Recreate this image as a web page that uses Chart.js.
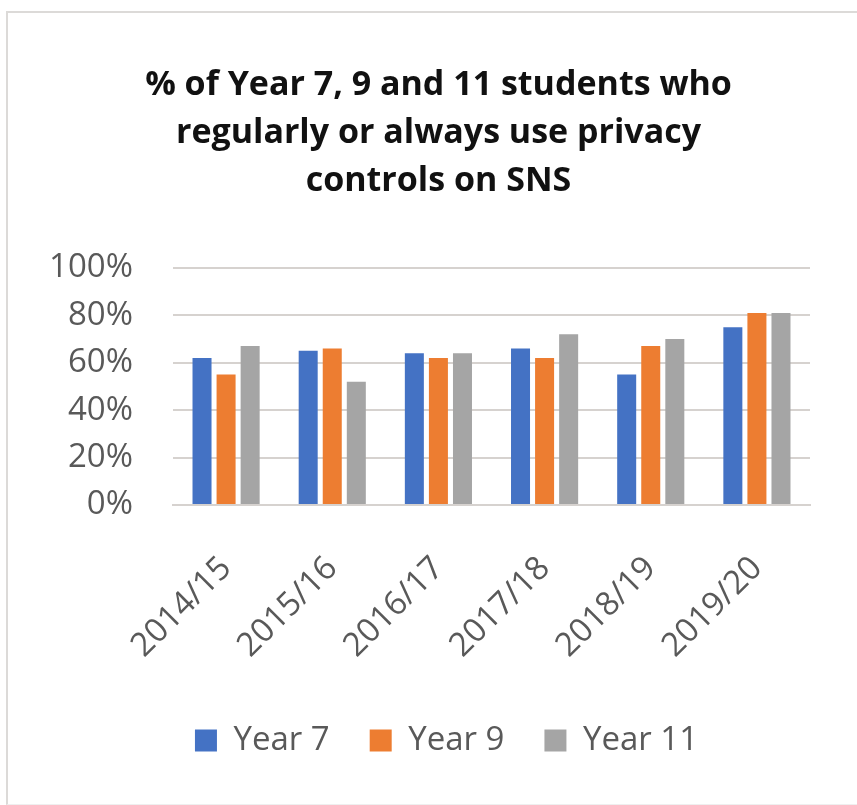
<!DOCTYPE html>
<html>
<head>
<meta charset="utf-8">
<script src="https://cdn.jsdelivr.net/npm/chart.js@4"></script>
<style>
 html, body { margin:0; padding:0; background:#fff; }
 #frame {
   position:absolute; left:6px; top:11px; width:851px; height:791px;
   border-top:2px solid #dcdad8; border-left:2px solid #dcdad8; border-bottom:1px solid #efefef;
 }
 #wrap { position:absolute; left:0; top:0; width:857px; height:805px; }
</style>
</head>
<body>
<div id="frame"></div>
<div id="wrap"><canvas id="chart" width="857" height="805"></canvas></div>
<script>
const categories = ['2014/15','2015/16','2016/17','2017/18','2018/19','2019/20'];
const year7  = [62, 65, 64, 66, 55, 75];
const year9  = [55, 66, 62, 62, 67, 81];
const year11 = [67, 52, 64, 72, 70, 81];
const seriesNames = ['Year 7','Year 9','Year 11'];
const titleLines = ['% of Year 7, 9 and 11 students who','regularly or always use privacy','controls on SNS'];

const font = "'Open Sans', Lato, sans-serif";
const grey = '#595959';
const gridColor = '#d6d2cf';

// title and legend sit centred on the whole frame, not on the axes block
const shiftBlocks = {
  id:'shiftBlocks',
  afterLayout(c){
    c.titleBlock.left += 16; c.titleBlock.right += 16;
    c.legend.left += 24; c.legend.right += 24;
  }
};

let chart = new Chart(document.getElementById('chart'),{
  type:'bar',
  data:{
    labels:categories,
    datasets:[
      { label:seriesNames[0], data:year7,  backgroundColor:'#4472C4' },
      { label:seriesNames[1], data:year9,  backgroundColor:'#ED7D31' },
      { label:seriesNames[2], data:year11, backgroundColor:'#A5A5A5' }
    ]
  },
  options:{
    responsive:false,
    animation:false,
    datasets:{ bar:{ categoryPercentage:0.68, barPercentage:0.79 } },
    layout:{ padding:{ left:35, right:47, top:0, bottom:38 } },
    plugins:{
      title:{
        display:true,
        text:titleLines,
        color:'#111',
        font:{ family:font, size:34, weight:'bold', lineHeight:1.42 },
        padding:{ top:61, bottom:62 }
      },
      legend:{
        position:'bottom',
        labels:{
          color:grey,
          font:{ family:font, size:33 },
          boxWidth:22, boxHeight:22,
          padding:40
        }
      },
      tooltip:{ enabled:false }
    },
    scales:{
      x:{
        grid:{ display:false },
        border:{ color:gridColor, width:2 },
        ticks:{ color:grey, font:{ family:font, size:33 }, minRotation:45, maxRotation:45, padding:36 },
        afterFit:s=>{ s.height = 179; }
      },
      y:{
        min:0, max:100,
        border:{ display:false },
        grid:{ color:gridColor, lineWidth:2, drawTicks:false },
        ticks:{ stepSize:20, color:grey, font:{ family:font, size:33 }, padding:40,
                callback:v=>v+'%' },
        afterFit:s=>{ s.width = 138; }
      }
    }
  },
  plugins:[shiftBlocks]
});
</script>
</body>
</html>
